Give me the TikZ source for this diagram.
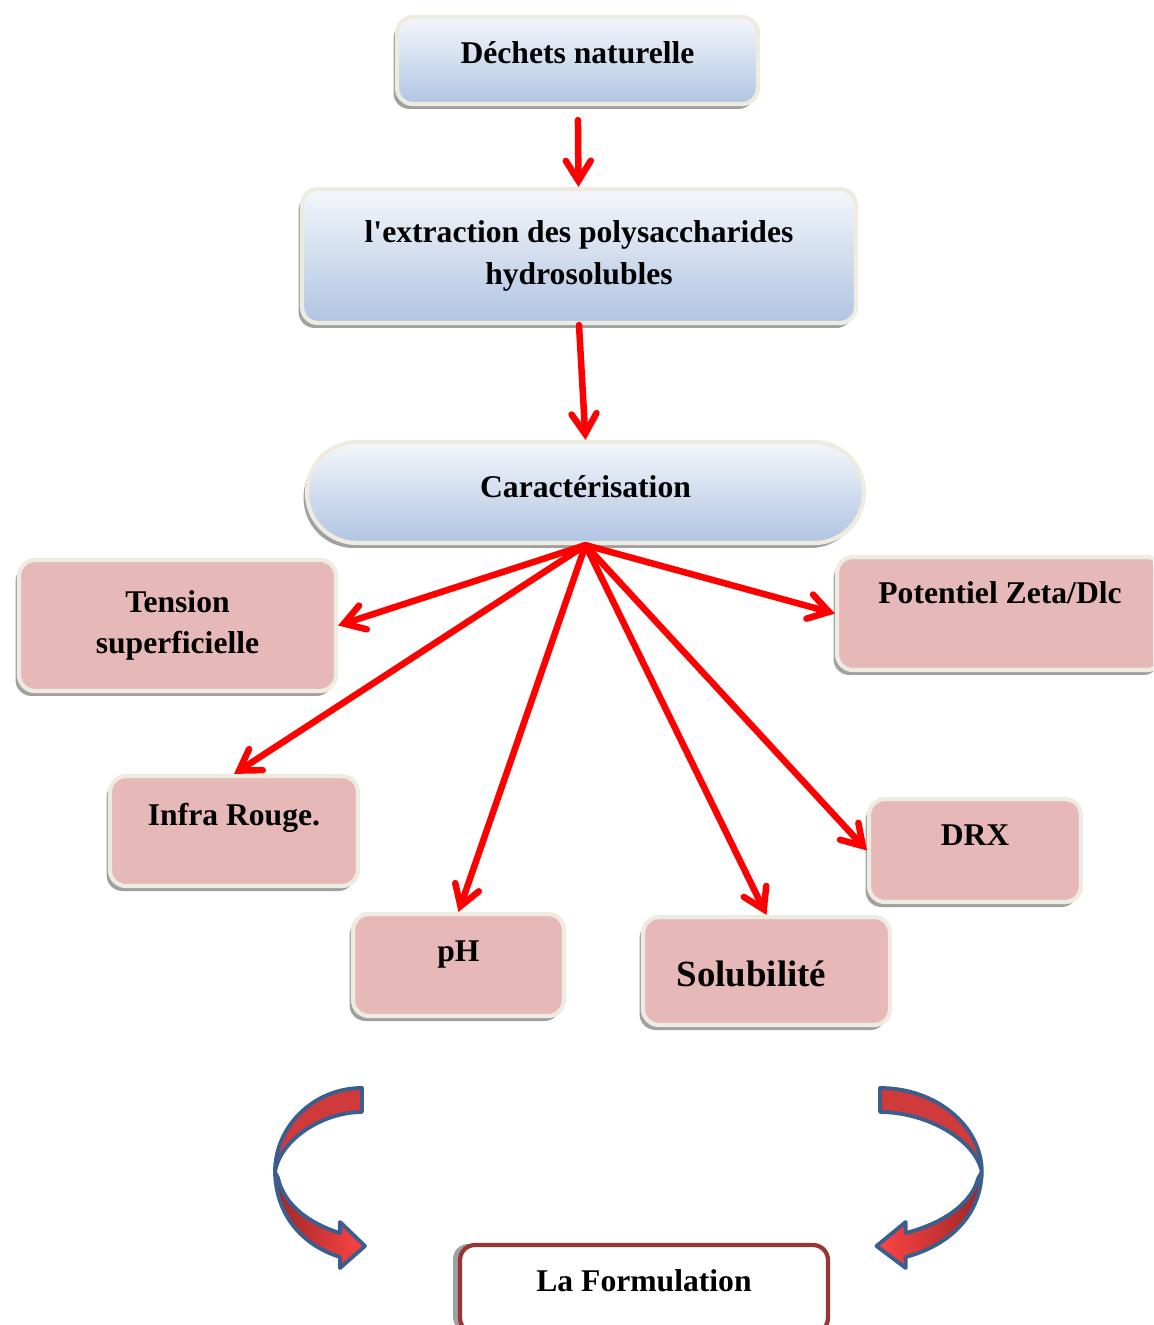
\documentclass[tikz,border=0pt]{standalone}
\usepackage{fontspec}
\setmainfont{Liberation Serif}
\usepackage{tikz}
\usetikzlibrary{arrows.meta, shadows}

\definecolor{boxline}{HTML}{EEECE1}
\definecolor{shadowgray}{HTML}{A0A0A0}
\definecolor{blueTop}{HTML}{F4F7FB}
\definecolor{blueMid}{HTML}{DDE6F2}
\definecolor{blueBot}{HTML}{B0C4E2}
\definecolor{pinkfill}{HTML}{E6B9B8}
\definecolor{linkred}{HTML}{FF0000}
\definecolor{formline}{HTML}{953735}
\definecolor{bendline}{HTML}{3A5F8E}
\definecolor{benddark}{HTML}{9E2626}
\definecolor{bendbright}{HTML}{FF4545}
\definecolor{bendmid}{HTML}{D03A3A}

\tikzset{
  box/.style={draw=boxline, line width=2.4pt, rounded corners=0.32cm, inner sep=0pt, align=center,
    font=\fontsize{18}{23.5}\selectfont\bfseries,
    drop shadow={shadow xshift=-0.07cm, shadow yshift=-0.1cm, fill=shadowgray, opacity=1}},
  bluebox/.style={box, top color=blueTop, middle color=blueMid, bottom color=blueBot},
  pinkbox/.style={box, fill=pinkfill},
  formbox/.style={draw=formline, line width=2.4pt, rounded corners=0.3cm, fill=white, inner sep=0pt,
    font=\fontsize{18}{23.5}\selectfont\bfseries,
    drop shadow={shadow xshift=-0.14cm, shadow yshift=0.02cm, fill=shadowgray, opacity=1}},
  link/.style={draw=linkred, line width=0.13cm, line cap=round,
    -{Straight Barb[length=0.4cm, width=0.5cm, line cap=round]}},
}

% curved band arrow, tail at x=0 (pixel units), #1/#2 = left/right colour of the lower part
\newcommand{\bendarrow}[2]{%
  \filldraw[draw=bendline, line width=2.2pt, line join=round, fill=bendmid]
    (0,1088) .. controls (-48,1088) and (-87,1126) .. (-87,1172)
    .. controls (-82,1140) and (-40,1112) .. (0,1112) -- cycle;
  \draw[draw=bendline, line width=2.2pt, line join=round, left color=#1, right color=#2]
    (-87,1172) .. controls (-86,1215) and (-60,1245) .. (-22,1257)
    -- (-22,1268) -- (3,1246) -- (-22,1222) -- (-22,1233)
    .. controls (-52,1224) and (-78,1205) .. (-84,1178) -- cycle;
}

\begin{document}
\begin{tikzpicture}[x=0.02cm, y=-0.02cm]
  \path[use as bounding box] (0,0) rectangle (1153,1325);
  \clip (0,0) rectangle (1153,1325);
  % Main steps
  \node[bluebox, minimum width=7.22cm, minimum height=1.74cm, text height=12pt, text depth=8.4pt] (dechets) at (577.5,60.5) {Déchets naturelle};
  \node[bluebox, minimum width=11.08cm, minimum height=2.68cm] (extraction) at (579,256) {l\textquotesingle extraction des polysaccharides\\hydrosolubles};
  \node[bluebox, rounded corners=1cm, minimum width=11.14cm, minimum height=2.02cm, text height=12pt, text depth=6pt] (caract) at (585.5,492.5) {Caractérisation};
  % Analyses
  \node[pinkbox, minimum width=6.34cm, minimum height=2.62cm] (tension) at (177.5,625.5) {Tension\\superficielle};
  \node[pinkbox, minimum width=6.52cm, minimum height=2.26cm, text height=12pt, text depth=23pt] (zeta) at (1000,613.5) {Potentiel Zeta/Dlc};
  \node[pinkbox, minimum width=4.96cm, minimum height=2.2cm, text height=12pt, text depth=18pt] (infra) at (234,831) {Infra Rouge.};
  \node[pinkbox, minimum width=4.24cm, minimum height=2.06cm, text height=12pt, text depth=17.5pt] (drx) at (975,850.5) {DRX};
  \node[pinkbox, minimum width=4.22cm, minimum height=2.04cm, text height=12pt, text depth=16pt] (ph) at (458.5,965) {pH};
  \node[pinkbox, minimum width=4.94cm, minimum height=2.16cm, font=\fontsize{21}{25}\selectfont\bfseries, text height=18pt, text depth=0pt] (solub) at (766.5,971) {Solubilité\hspace{0.6cm}};
  % Result
  \node[formbox, minimum width=7.36cm, minimum height=1.76cm, text height=12pt, text depth=9pt] (formul) at (644,1289) {La Formulation};
  % Red links
  \draw[link, shorten <=0.28cm] (dechets) -- (extraction);
  \draw[link] (extraction.south) -- (caract.north);
  \draw[link] (caract.south) -- (tension.east);
  \draw[link] (caract.south) -- (infra.north);
  \draw[link] (caract.south) -- (ph.north);
  \draw[link] (caract.south) -- (solub.north);
  \draw[link] (caract.south) -- (drx.west);
  \draw[link] (caract.south) -- (zeta.west);
  % Curved arrows
  \begin{scope}[shift={(362,0)}]
    \bendarrow{benddark}{bendbright}
  \end{scope}
  \begin{scope}[shift={(880,0)}, xscale=-1.17]
    \bendarrow{bendbright}{benddark}
  \end{scope}
\end{tikzpicture}
\end{document}
